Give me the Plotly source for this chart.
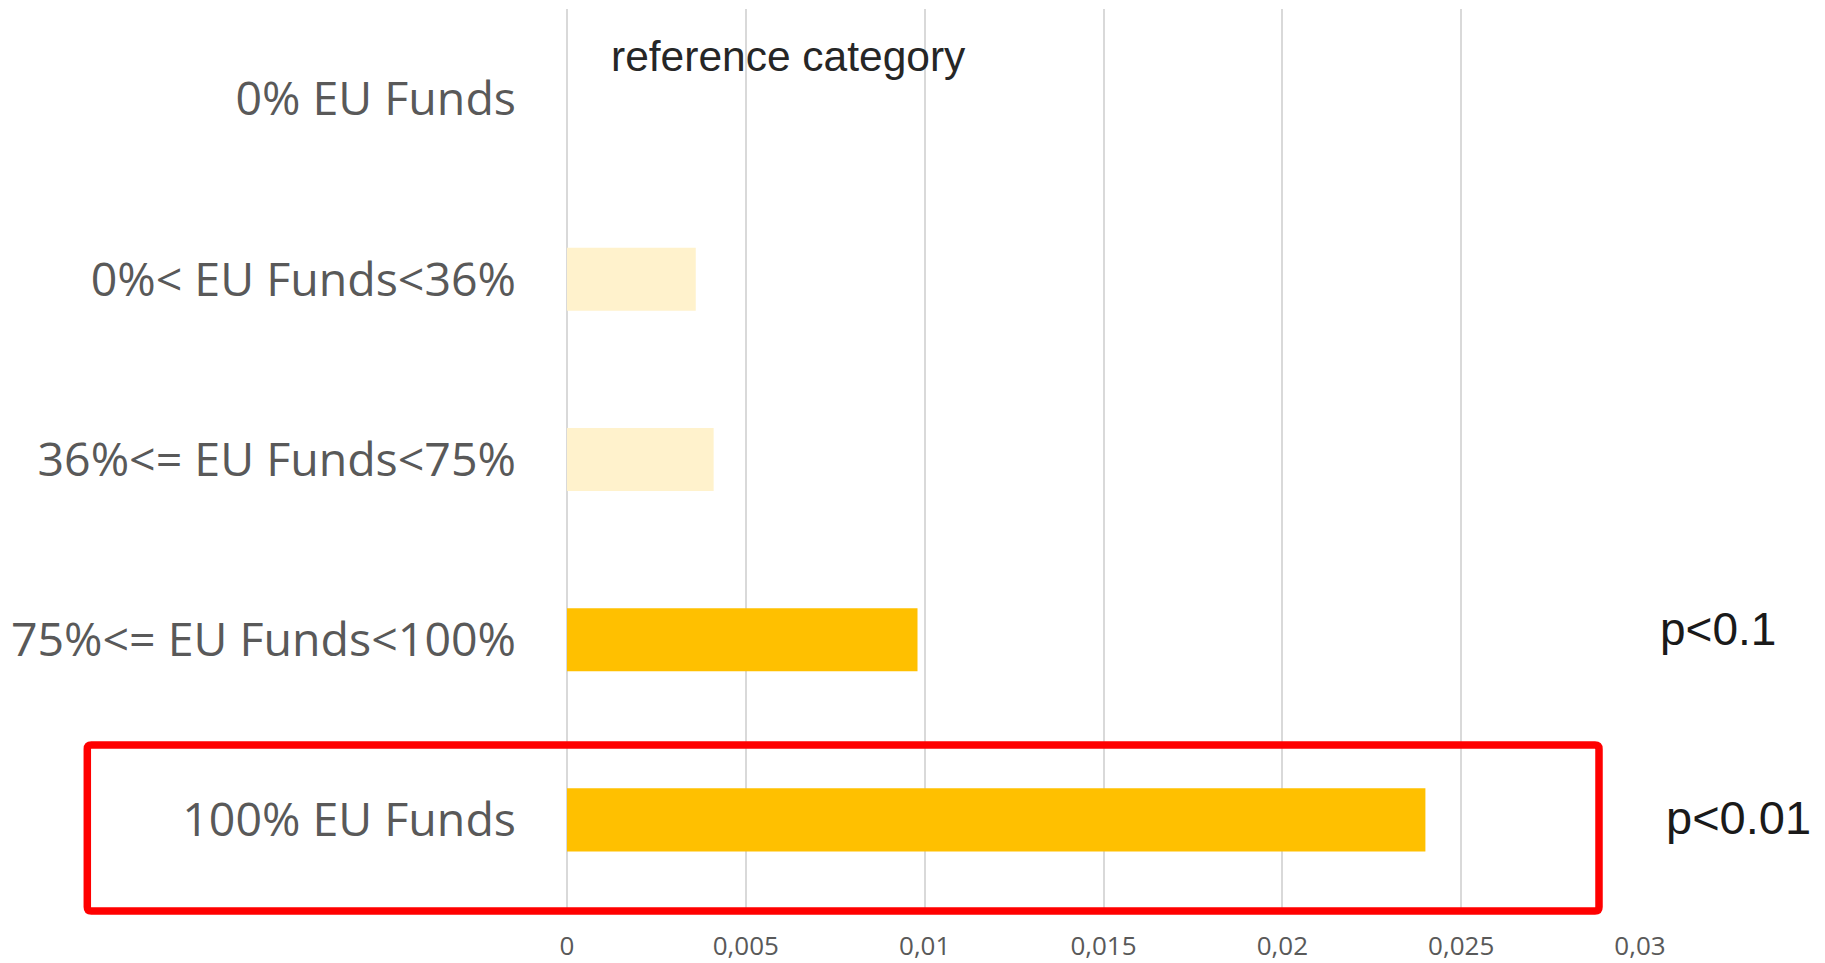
import plotly.graph_objects as go

categories = ["0% EU Funds", "0%< EU Funds<36%", "36%<= EU Funds<75%",
              "75%<= EU Funds<100%", "100% EU Funds"]
values = [0.0, 0.0036, 0.0041, 0.0098, 0.0240]
significant = [False, False, False, True, True]
tick_values = [0, 0.005, 0.01, 0.015, 0.02, 0.025, 0.03]
tick_labels = ["0", "0,005", "0,01", "0,015", "0,02", "0,025", "0,03"]
p_labels = {"75%<= EU Funds<100%": "p<0.1", "100% EU Funds": "p<0.01"}
ref_label = "reference category"

STRONG = "#FFC000"
LIGHT = "#FFF2CC"
colors = [STRONG if s else LIGHT for s in significant]

fig = go.Figure()
fig.add_trace(go.Bar(
    x=values, y=categories, orientation="h",
    marker=dict(color=colors, line=dict(width=0)),
    width=0.35, hoverinfo="x+y", showlegend=False,
))

# body margin is removed in the page (post_script), so figure = window
W, H = 1825, 963
plot_left, plot_right = 567, 1640
plot_top, plot_bottom = 9, 910
ml, mr = plot_left, W - plot_right
mt, mb = plot_top, H - plot_bottom
pw = plot_right - plot_left
ph = plot_bottom - plot_top

def px_x(px):
    return (px - plot_left) / pw

def px_y(py):
    return (plot_bottom - py) / ph

fig.update_layout(
    width=W, height=H,
    margin=dict(l=ml, r=mr, t=mt, b=mb, pad=0, autoexpand=False),
    paper_bgcolor="white", plot_bgcolor="white",
    font=dict(family="Open Sans", color="#595959"),
    bargap=0.65,
)
fig.update_xaxes(
    range=[0, 0.03], tickvals=tick_values, ticktext=tick_labels,
    showgrid=True, gridcolor="#D9D9D9", gridwidth=1.5,
    zeroline=True, zerolinecolor="#D9D9D9", zerolinewidth=1.5,
    showline=False, ticks="", automargin=False,
    tickfont=dict(size=26, color="#595959", family="Open Sans"),
    ticklabelstandoff=18,
)
fig.update_yaxes(
    categoryorder="array", categoryarray=categories, autorange="reversed",
    showgrid=False, showline=False, ticks="", automargin=False,
    tickfont=dict(size=46.5, color="#595959", family="Open Sans"),
    ticklabelstandoff=50,
)

# reference category label
fig.add_annotation(
    x=px_x(609), y=px_y(57), xref="paper", yref="paper",
    xanchor="left", yanchor="middle", showarrow=False,
    text=ref_label,
    font=dict(family="Liberation Sans, Arial", size=42.5, color="#262626"),
)

# p-value labels
fig.add_annotation(
    x=px_x(1658), y=px_y(629), xref="paper", yref="paper",
    xanchor="left", yanchor="middle", showarrow=False,
    text=p_labels["75%<= EU Funds<100%"],
    font=dict(family="Liberation Sans, Arial", size=46, color="#1a1a1a"),
)
fig.add_annotation(
    x=px_x(1664), y=px_y(817), xref="paper", yref="paper",
    xanchor="left", yanchor="middle", showarrow=False,
    text=p_labels["100% EU Funds"],
    font=dict(family="Liberation Sans, Arial", size=47, color="#1a1a1a"),
)

# red highlight box with slightly rounded corners
x0, x1 = px_x(87.3), px_x(1599)
y0, y1 = px_y(911), px_y(745)
rx, ry = 4 / pw, 4 / ph
path = (
    f"M {x0+rx},{y1} L {x1-rx},{y1} Q {x1},{y1} {x1},{y1-ry} "
    f"L {x1},{y0+ry} Q {x1},{y0} {x1-rx},{y0} "
    f"L {x0+rx},{y0} Q {x0},{y0} {x0},{y0+ry} "
    f"L {x0},{y1-ry} Q {x0},{y1} {x0+rx},{y1} Z"
)
fig.add_shape(type="path", path=path, xref="paper", yref="paper",
              line=dict(color="#FF0000", width=7.5), fillcolor="rgba(0,0,0,0)",
              layer="above")

fig.write_html(
    "out.html",
    config={"displayModeBar": False},
    post_script="document.body.style.margin='0px';document.body.style.overflow='hidden';",
)
